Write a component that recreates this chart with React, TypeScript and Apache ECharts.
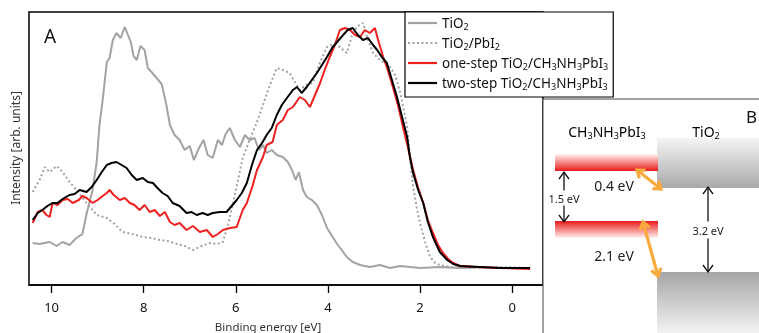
import React, { useEffect, useRef } from "react";
import * as echarts from "echarts";

// Binding energy [eV], intensity [arb. units]
const tio2: [number, number][] = [
  [10.41, 42], [10.26, 41], [10.04, 43], [9.89, 39], [9.76, 43], [9.61, 40], [9.46, 47], [9.33, 51],
  [9.24, 71], [9.11, 95], [9.02, 123], [8.96, 160], [8.89, 185], [8.8, 223], [8.74, 227], [8.67, 245],
  [8.59, 252], [8.5, 247], [8.41, 258], [8.35, 251], [8.28, 243], [8.22, 229], [8.15, 225], [8.07, 239],
  [7.98, 235], [7.91, 217], [7.83, 213], [7.72, 207], [7.61, 201], [7.52, 183], [7.43, 160], [7.33, 150],
  [7.22, 145], [7.11, 135], [7.0, 139], [6.91, 125], [6.8, 137], [6.7, 145], [6.61, 130], [6.5, 127],
  [6.39, 145], [6.3, 140], [6.22, 151], [6.13, 157], [6.02, 145], [5.91, 138], [5.8, 150], [5.7, 145],
  [5.59, 147], [5.5, 135], [5.41, 140], [5.33, 132], [5.22, 135], [5.11, 130], [4.98, 128], [4.87, 123],
  [4.78, 115], [4.7, 105], [4.63, 113], [4.54, 95], [4.46, 88], [4.35, 85], [4.24, 80], [4.13, 70],
  [4.02, 57], [3.91, 49], [3.8, 41], [3.7, 35], [3.59, 28], [3.46, 23], [3.3, 20], [3.09, 18],
  [2.87, 20], [2.65, 17], [2.43, 19], [2.0, 17], [1.57, 18], [1.13, 17], [0.7, 18], [0.26, 17],
  [-0.17, 17], [-0.39, 17],
];

const tio2Pbi2: [number, number][] = [
  [10.41, 93], [10.26, 105], [10.15, 118], [10.04, 113], [9.89, 119], [9.76, 113], [9.61, 103], [9.46, 95],
  [9.24, 82], [9.02, 70], [8.8, 67], [8.63, 61], [8.46, 53], [8.24, 51], [8.02, 48], [7.83, 47],
  [7.65, 45], [7.48, 44], [7.28, 41], [7.11, 39], [6.93, 35], [6.74, 39], [6.57, 42], [6.41, 41],
  [6.28, 43], [6.17, 60], [6.07, 80], [5.96, 103], [5.85, 127], [5.7, 145], [5.54, 163], [5.41, 180],
  [5.26, 200], [5.11, 217], [4.98, 215], [4.83, 212], [4.72, 203], [4.61, 195], [4.48, 200], [4.33, 202],
  [4.17, 223], [4.02, 238], [3.87, 241], [3.74, 238], [3.59, 232], [3.46, 252], [3.35, 259], [3.24, 262],
  [3.13, 245], [3.02, 232], [2.87, 225], [2.65, 218], [2.54, 210], [2.43, 192], [2.35, 175], [2.28, 158],
  [2.22, 128], [2.15, 98], [2.07, 77], [2.0, 62], [1.89, 43], [1.78, 28], [1.67, 22], [1.57, 20],
  [1.35, 18], [0.91, 17], [0.26, 18], [-0.39, 17],
];

const oneStep: [number, number][] = [
  [10.41, 62], [10.3, 73], [10.2, 75], [10.11, 70], [10.04, 68], [9.98, 82], [9.87, 80], [9.76, 85],
  [9.65, 86], [9.54, 82], [9.41, 85], [9.33, 89], [9.24, 87], [9.11, 82], [9.0, 85], [8.89, 89],
  [8.8, 92], [8.74, 95], [8.65, 90], [8.52, 85], [8.41, 87], [8.3, 82], [8.2, 80], [8.09, 75],
  [7.98, 80], [7.87, 73], [7.76, 75], [7.65, 69], [7.54, 73], [7.43, 63], [7.33, 60], [7.22, 62],
  [7.07, 55], [6.93, 59], [6.78, 53], [6.63, 55], [6.5, 48], [6.39, 51], [6.28, 55], [6.13, 57],
  [5.98, 58], [5.85, 75], [5.76, 82], [5.63, 100], [5.54, 115], [5.41, 128], [5.33, 140], [5.2, 143],
  [5.11, 160], [4.98, 165], [4.87, 175], [4.76, 178], [4.61, 188], [4.5, 185], [4.39, 178], [4.28, 190],
  [4.17, 202], [4.07, 215], [3.96, 228], [3.85, 240], [3.74, 255], [3.63, 257], [3.52, 255], [3.41, 250],
  [3.3, 248], [3.2, 255], [3.09, 252], [2.98, 257], [2.91, 245], [2.8, 228], [2.7, 215], [2.59, 198],
  [2.48, 180], [2.37, 158], [2.26, 137], [2.15, 115], [2.04, 97], [1.93, 82], [1.83, 65], [1.72, 52],
  [1.61, 40], [1.5, 32], [1.39, 26], [1.28, 22], [1.13, 19], [0.8, 18], [0.26, 17], [-0.39, 16],
];

const twoStep: [number, number][] = [
  [10.41, 65], [10.3, 72], [10.2, 75], [10.09, 79], [9.98, 82], [9.87, 82], [9.76, 86], [9.61, 90],
  [9.5, 91], [9.39, 95], [9.24, 93], [9.13, 98], [9.02, 105], [8.91, 113], [8.8, 120], [8.7, 122],
  [8.59, 123], [8.48, 120], [8.37, 117], [8.26, 110], [8.15, 105], [8.02, 107], [7.91, 103], [7.8, 102],
  [7.7, 97], [7.59, 92], [7.48, 89], [7.37, 82], [7.22, 79], [7.07, 72], [6.96, 73], [6.85, 70],
  [6.72, 72], [6.61, 70], [6.5, 72], [6.35, 73], [6.2, 73], [6.09, 79], [5.98, 85], [5.87, 92],
  [5.76, 102], [5.65, 120], [5.54, 135], [5.43, 142], [5.33, 150], [5.22, 157], [5.11, 170], [5.0, 180],
  [4.89, 187], [4.76, 195], [4.67, 198], [4.57, 192], [4.46, 198], [4.35, 205], [4.24, 212], [4.13, 220],
  [4.02, 228], [3.91, 237], [3.8, 243], [3.67, 250], [3.57, 255], [3.46, 257], [3.35, 250], [3.24, 245],
  [3.13, 247], [3.02, 240], [2.93, 235], [2.83, 228], [2.72, 222], [2.61, 205], [2.5, 188], [2.39, 168],
  [2.28, 148], [2.22, 128], [2.15, 112], [2.04, 95], [1.93, 82], [1.83, 63], [1.72, 48], [1.57, 33],
  [1.41, 25], [1.28, 21], [1.13, 19], [0.7, 18], [0.26, 17], [-0.39, 17],
];

const seriesNames = ["TiO2", "TiO2/PbI2", "one-step TiO2/CH3NH3PbI3", "two-step TiO2/CH3NH3PbI3"];
const xTicks = [0, 2, 4, 6, 8, 10];

const FONT = "Noto Sans";

const subRich = (name: string) => "{n|" + name.replace(/(\d)/g, "}{s|$1}{n|") + "}";

const SOLID_ICON = "path://M0,0H29V2.2H0Z";
const DOTTED_ICON =
  "path://M0,0h2v2.2h-2zM4.5,0h2v2.2h-2zM9,0h2v2.2h-2zM13.5,0h2v2.2h-2zM18,0h2v2.2h-2zM22.5,0h2v2.2h-2zM27,0h2v2.2h-2z";

const chevron = (ax: number, ay: number, bx: number, by: number) => {
  const dx = bx - ax, dy = by - ay;
  const len = Math.hypot(dx, dy);
  const ux = dx / len, uy = dy / len;
  const nx = -uy, ny = ux;
  const L = 7, W = 5;
  return [
    [bx - L * ux + W * nx, by - L * uy + W * ny],
    [bx, by],
    [bx - L * ux - W * nx, by - L * uy - W * ny],
  ];
};

const doubleArrow = (ax: number, ay: number, bx: number, by: number, color: string, width: number) => [
  { type: "line", shape: { x1: ax, y1: ay, x2: bx, y2: by }, style: { stroke: color, lineWidth: width }, z: 10 },
  { type: "polyline", shape: { points: chevron(ax, ay, bx, by) }, style: { stroke: color, lineWidth: width, fill: null }, z: 10 },
  { type: "polyline", shape: { points: chevron(bx, by, ax, ay) }, style: { stroke: color, lineWidth: width, fill: null }, z: 10 },
];

const grad = (c0: string, c1: string) => ({
  type: "linear", x: 0, y: 0, x2: 0, y2: 1,
  colorStops: [{ offset: 0, color: c0 }, { offset: 1, color: c1 }],
});

export default function App() {
  const ref = useRef<HTMLDivElement>(null);
  useEffect(() => {
    if (!ref.current) return;
    const chart = echarts.init(ref.current, null, { renderer: "svg" });
    const lineSeries = (name: string, data: [number, number][], color: string, type: any, z: number) => ({
      name, type: "line", data, symbol: "none", showSymbol: false, z,
      lineStyle: { color, width: 2, type }, itemStyle: { color },
      emphasis: { disabled: true }, clip: true,
    });
    const richB = {
      n: { fontSize: 14, color: "#222", fontFamily: FONT, lineHeight: 18 },
      s: { fontSize: 9, color: "#222", fontFamily: FONT, lineHeight: 8, verticalAlign: "bottom" },
    };
    chart.setOption({
      animation: false,
      textStyle: { fontFamily: FONT },
      grid: { left: 29, top: 12, width: 514, height: 273, show: true, borderColor: "#000", borderWidth: 1.5, backgroundColor: "transparent" },
      xAxis: {
        type: "value", inverse: true, min: -0.67, max: 10.49,
        axisLine: { show: true, lineStyle: { color: "#000", width: 1.5 } },
        axisTick: { show: true, inside: false, length: 8, lineStyle: { color: "#000", width: 1.3 }, customValues: xTicks },
        axisLabel: { color: "#111", fontSize: 13, margin: 15, customValues: xTicks, fontFamily: FONT },
        splitLine: { show: false },
      },
      yAxis: {
        type: "value", min: 0, max: 273,
        axisLine: { show: false }, axisTick: { show: false }, axisLabel: { show: false }, splitLine: { show: false },
      },
      legend: {
        orient: "vertical", left: 405, top: 12,
        padding: [4, 5, 6, 3], itemGap: 5, itemWidth: 29, itemHeight: 2.2, itemTextGap: 8,
        borderColor: "#000", borderWidth: 1.2, backgroundColor: "#fff",
        data: [
          { name: seriesNames[0], icon: SOLID_ICON },
          { name: seriesNames[1], icon: DOTTED_ICON },
          { name: seriesNames[2], icon: SOLID_ICON },
          { name: seriesNames[3], icon: SOLID_ICON },
        ],
        formatter: (name: string) => subRich(name),
        textStyle: {
          rich: {
            n: { fontSize: 13.5, color: "#111", fontFamily: FONT, lineHeight: 16 },
            s: { fontSize: 9, color: "#111", fontFamily: FONT, lineHeight: 8, verticalAlign: "bottom" },
          },
        },
      },
      series: [
        lineSeries(seriesNames[0], tio2, "#a3a3a3", "solid", 2),
        lineSeries(seriesNames[1], tio2Pbi2, "#a3a3a3", [2, 2.5], 3),
        lineSeries(seriesNames[2], oneStep, "#ee2020", "solid", 4),
        lineSeries(seriesNames[3], twoStep, "#000000", "solid", 5),
      ],
      graphic: [
        { type: "text", left: 44, top: 26, style: { text: "A", fontSize: 19, fill: "#111", fontFamily: FONT } },
        {
          type: "text", x: 15, y: 148, rotation: Math.PI / 2,
          style: { text: "Intensity [arb. units]", fontSize: 12, fill: "#333", fontFamily: FONT, align: "center", verticalAlign: "middle" },
        },
        {
          type: "text", x: 268, y: 320,
          style: { text: "Binding energy [eV]", fontSize: 11.5, fill: "#333", fontFamily: FONT, align: "center", verticalAlign: "top" },
        },
        // panel B
        { type: "rect", shape: { x: 543, y: 99, width: 230, height: 250 }, style: { fill: "#fff", stroke: "#444", lineWidth: 1 }, z: 1 },
        { type: "rect", shape: { x: 657, y: 138, width: 110, height: 50 }, style: { fill: grad("#f4f4f4", "#a9a9a9") }, z: 2 },
        { type: "rect", shape: { x: 657, y: 272, width: 110, height: 70 }, style: { fill: grad("#a5a5a5", "#ffffff") }, z: 2 },
        { type: "rect", shape: { x: 555, y: 154, width: 103, height: 17 }, style: { fill: grad("#fff3ef", "#e8191a") }, z: 2 },
        { type: "rect", shape: { x: 555, y: 221, width: 103, height: 17 }, style: { fill: grad("#e8191a", "#fff3ef") }, z: 2 },
        { type: "text", x: 607, y: 131, style: { text: "{n|CH}{s|3}{n|NH}{s|3}{n|PbI}{s|3}", rich: richB, align: "center", verticalAlign: "middle" }, z: 3 },
        { type: "text", x: 706, y: 131, style: { text: "{n|TiO}{s|2}", rich: richB, align: "center", verticalAlign: "middle" }, z: 3 },
        { type: "text", x: 746, y: 116, style: { text: "B", fontSize: 17, fill: "#111", fontFamily: FONT, align: "left", verticalAlign: "middle" }, z: 3 },
        { type: "text", x: 614, y: 185, style: { text: "0.4 eV", fontSize: 14, fill: "#222", fontFamily: FONT, align: "center", verticalAlign: "middle" }, z: 3 },
        { type: "text", x: 614, y: 255, style: { text: "2.1 eV", fontSize: 14, fill: "#222", fontFamily: FONT, align: "center", verticalAlign: "middle" }, z: 3 },
        ...doubleArrow(564, 172, 564, 222, "#111", 1.3),
        {
          type: "text", x: 564, y: 198,
          style: { text: "1.5 eV", fontSize: 11, fill: "#222", fontFamily: FONT, align: "center", verticalAlign: "middle", backgroundColor: "#fff", padding: [2, 1] },
          z: 11,
        },
        ...doubleArrow(708, 187, 708, 272, "#111", 1.3),
        {
          type: "text", x: 708, y: 230,
          style: { text: "3.2 eV", fontSize: 11, fill: "#222", fontFamily: FONT, align: "center", verticalAlign: "middle", backgroundColor: "#fff", padding: [3, 1] },
          z: 11,
        },
        ...doubleArrow(637, 170, 661, 189, "#f8aa3c", 3.2),
        ...doubleArrow(643, 222, 658, 276, "#f8aa3c", 3.2),
      ],
    });
    return () => chart.dispose();
  }, []);
  return <div ref={ref} style={{ position: "fixed", left: 0, top: 0, width: 759, height: 333 }} />;
}
